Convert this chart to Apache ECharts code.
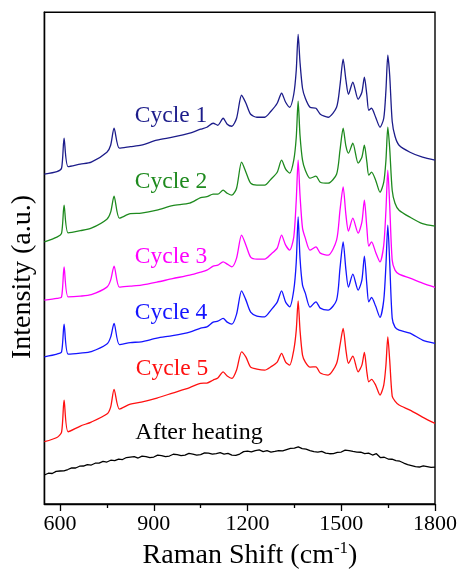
<!DOCTYPE html>
<html>
<head>
<meta charset="utf-8">
<script src="https://cdn.jsdelivr.net/npm/echarts@6/dist/echarts.min.js"></script>
<style>
html,body{margin:0;padding:0;background:#fff;}
#chart{width:460px;height:571px;}
</style>
</head>
<body>
<div id="chart"></div>
<script>
// Raman shift grid (cm-1) shared by the cycle spectra
var shift = [550,590,605,613,626,665,700,750,762,773,790,825,860,910,960,1015,1050,1070,1090,1105,1122,1135,1150,1165,1181,1195,1210,1230,1255,1275,1295,1309,1322,1335,1348,1356,1362,1368,1376,1385,1400,1419,1433,1458,1485,1496,1506,1515,1523,1537,1554,1566,1574,1582,1588,1597,1610,1624,1636,1643,1649,1655,1663,1672,1685,1720,1760,1800];

// Intensities (a.u., stacked offsets as plotted)
var cycle1 = [330,332.5,336,366,337.5,340,342,352,359,376,356,357.5,359,364,367,371,375,377,381,379,386,380,378,386,409,401,390,387,387,393,401,411,402,397,410,434,470,442,416,406,397,396,390,387,397,419,445,424,410,422,405,412,427,409,394,396,387,377,386,414,449,429,383,368,359,352,347,344];
var cycle2 = [262.3,267,271,299,271.3,273.5,276,285,292,308,286,290.5,291,294,298.5,301,306.5,307.5,310,310,314,311,309,316,342,332,321,319,319,325,332,344,335,331,344,367,403,369,344,334,326,328,322,321,330,354,376,358,351,361,341,347,359,342,329,332,324,312,322,344,377,356,314,301,294,287,280.5,278];
var cycle3 = [204,205.7,207.3,237.3,207.3,208,209.5,217,224,238,217,218,219,222,225.5,229,232,234,238,239,242.3,240,237.3,246,269,259,247,245,245,250,256,269,259,254,267,304,344,309,276,266,254,257.3,251,249,264,294,317.3,289,273,286,271,282,304,276,258,262.3,252,242.3,259,294,334,299,244,234,230,226,221,216.7];
var cycle4 = [147.3,150,152.3,180,150,151,152.5,160,167,180.7,159.5,161.5,162.3,166,168.5,172,176,177.3,182,183,185.7,182,180,190,213.3,204,192,188,187.3,194,202,213.3,202,197.3,214,242,287.3,246,219,211,197,202.3,196,194,204,236,262.3,234,217,230,214,224,248,219,202.3,206.7,198,186.7,204,239,279,242,186,177,174,171,164,160.7];
var cycle5 = [62.3,66.5,72,104,72.3,78,82,90,97,114.7,95,100,102,106,111,116.5,120.7,121,124,126,132.3,128,125.7,134,152.3,147,137,135,134,137.3,142,150.7,142,139,154,174,203.3,174,149,142,137,137.3,131,129,140.7,159,175.7,154,140.7,148,132.3,139,151.7,132,122.3,124.7,119,109,119,139,167.3,144,108,103,99,94,87,80.7];

// After heating spectrum (noisy, read every 12.5 cm-1)
var heatShift = [550,562.5,575,587.5,600,612.5,625,637.5,650,662.5,675,687.5,700,712.5,725,737.5,750,762.5,775,787.5,800,812.5,825,837.5,850,862.5,875,887.5,900,912.5,925,937.5,950,962.5,975,987.5,1000,1012.5,1025,1037.5,1050,1062.5,1075,1087.5,1100,1112.5,1125,1137.5,1150,1162.5,1175,1187.5,1200,1212.5,1225,1237.5,1250,1262.5,1275,1287.5,1300,1312.5,1325,1337.5,1350,1362.5,1375,1387.5,1400,1412.5,1425,1437.5,1450,1462.5,1475,1487.5,1500,1512.5,1525,1537.5,1550,1562.5,1575,1587.5,1600,1612.5,1625,1637.5,1650,1662.5,1675,1687.5,1700,1712.5,1725,1737.5,1750,1762.5,1775,1787.5,1800];
var afterHeating = [29,30.8,30.5,32.6,33,33.2,34.5,36.2,36,37.8,38,39.5,39,40.8,41,42.6,42,43.8,43.5,45,44.5,46.5,47,47.4,46,47.9,47.5,46.4,47,48.9,48.5,47.3,48,49.8,49.5,48.4,49,50.6,50,48.9,49.5,51.2,51,49.8,50.5,51.3,50,50.6,49,48.6,50,52.4,53,52.2,53.5,54.1,52.5,53.3,52,52.6,53.5,53.1,54.5,55.6,56,57.2,55.5,54.9,53.5,52.4,52,52.7,51,50.3,50.5,51.6,52,53.9,53.5,52.6,52,51.8,50.5,50.9,49,50.3,46.5,46.8,45,44.8,43.5,42.8,41,39.4,38.5,37.3,37,38.2,37.5,36.6,37];

var xTicks = [600,900,1200,1500,1800];
var xMinorTicks = [750,1050,1350,1650];

var seriesNames = ['Cycle 1','Cycle 2','Cycle 3','Cycle 4','Cycle 5','After heating'];
var seriesColors = ['#1c1c8a','#1e8a1e','#ff00ff','#1414ff','#ff1010','#000000'];

function pairs(xs, ys){ return xs.map(function(x,i){ return [x, ys[i]]; }); }

var serif = "'Liberation Serif','Times New Roman',serif";
var chart = echarts.init(document.getElementById('chart'), null, {renderer:'canvas'});

var dataSets = [pairs(shift,cycle1),pairs(shift,cycle2),pairs(shift,cycle3),pairs(shift,cycle4),pairs(shift,cycle5),pairs(heatShift,afterHeating)];

var series = dataSets.map(function(d,i){
  return {
    type:'line', name:seriesNames[i], data:d, showSymbol:false, symbol:'none',
    smooth: i===5 ? false : 0.25,
    lineStyle:{color:seriesColors[i], width: 1.3},
    animation:false, xAxisIndex:0
  };
});

var labelPos = [[171,116],[171,182],[171,257],[171,313],[172,369],[199,433]];

chart.setOption({
  animation:false,
  backgroundColor:'#fff',
  grid:{left:44.4, right:25, top:12.3, bottom:67, show:true, borderColor:'#000', borderWidth:1.4, backgroundColor:'transparent'},
  xAxis:[{
    type:'value', min:550, max:1800,
    axisLine:{show:true, lineStyle:{color:'#000', width:1.4}},
    axisTick:{show:true, inside:false, length:7, lineStyle:{color:'#000', width:1.3}, customValues:xTicks},
    axisLabel:{show:true, customValues:xTicks, fontFamily:serif, fontSize:22, color:'#000', margin:9, formatter:function(v){return String(v);}},
    splitLine:{show:false}
  },{
    type:'value', min:550, max:1800, position:'bottom',
    axisLine:{show:false},
    axisTick:{show:true, inside:false, length:4, lineStyle:{color:'#000', width:1.3}, customValues:xMinorTicks},
    axisLabel:{show:false},
    splitLine:{show:false}
  }],
  yAxis:{
    type:'value', min:0, max:492,
    axisLine:{show:true, lineStyle:{color:'#000', width:1.4}},
    axisTick:{show:false}, axisLabel:{show:false}, splitLine:{show:false}
  },
  series:series,
  graphic: labelPos.map(function(p,i){
    return {type:'text', x:p[0], y:p[1], style:{text:seriesNames[i], fill: seriesColors[i], font: (i===5?'24px ':'23.5px ')+serif, align:'center', verticalAlign:'middle'}};
  }).concat([
    {type:'text', x:250, y:556, style:{text:'{a|Raman Shift (cm}{s|-1}{a|)}', align:'center', verticalAlign:'middle', rich:{a:{fontFamily:serif, fontSize:28, fill:'#000', lineHeight:32}, s:{fontFamily:serif, fontSize:17, fill:'#000', verticalAlign:'top', lineHeight:32}}}},
    {type:'text', x:23, y:277, rotation:Math.PI/2, style:{text:'Intensity (a.u.)', fill:'#000', font:'28px '+serif, align:'center', verticalAlign:'middle'}}
  ])
});
</script>
</body>
</html>
